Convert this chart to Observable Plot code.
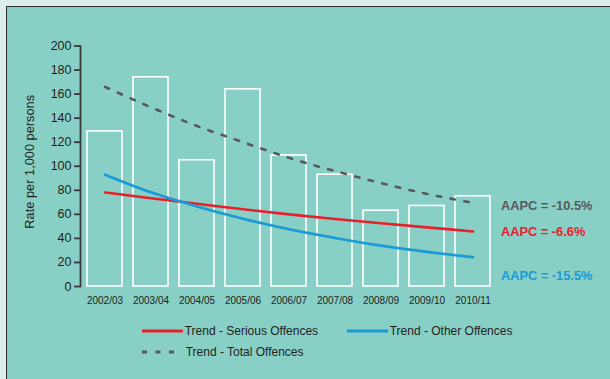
<!DOCTYPE html>
<html>
<head>
<meta charset="utf-8">
<script src="https://cdn.jsdelivr.net/npm/d3@7"></script>
<script src="https://cdn.jsdelivr.net/npm/@observablehq/plot@0.6"></script>
<style>
  html, body { margin: 0; padding: 0; }
  body { width: 610px; height: 379px; background: #dceeeb; position: relative; overflow: hidden; font-family: "Liberation Sans", Arial, sans-serif; }
  #panel { position: absolute; left: 6px; top: 6px; width: 610px; height: 379px; background: #88cfc5; border-left: 1.5px solid #2e2e2e; border-top: 1.5px solid #2e2e2e; }
  #chart { position: absolute; left: 0; top: 0; }
  #legend { position: absolute; left: 0; top: 318px; width: 610px; height: 50px; font-size: 12px; color: #231f20; }
  .item { position: absolute; display: flex; align-items: center; white-space: nowrap; }
  .item svg { display: block; margin-right: 2px; }
</style>
</head>
<body>
<div id="panel"></div>
<div id="chart"></div>
<div id="legend"></div>
<script>
const years = ["2002/03","2003/04","2004/05","2005/06","2006/07","2007/08","2008/09","2009/10","2010/11"];
const rates = [129, 174, 105, 164, 109, 93, 63, 67, 75];
const trendSerious = [78.2, 73.4, 68.8, 64.2, 60, 56.2, 52.6, 49.2, 45.8];
const trendOther = [93, 78.3, 66.6, 56.4, 47.6, 40.4, 34, 28.8, 24.4];
const trendTotal = [166, 149, 133.5, 120, 107, 96, 86, 77, 69.6];
const seriesNames = ["Trend - Serious Offences", "Trend - Other Offences", "Trend - Total Offences"];
const seriesColors = ["#e8202a", "#1a9ad6", "#58595b"];
const aapcLabels = ["AAPC = -10.5%", "AAPC = -6.6%", "AAPC = -15.5%"];
const aapcY = [67.4, 45.3, 8.7];
const aapcColors = ["#58595b", "#e8202a", "#1a9ad6"];
const yTicks = [0, 20, 40, 60, 80, 100, 120, 140, 160, 180, 200];
const yLabel = "Rate per 1,000 persons";

const bars = years.map((y, i) => ({year: y, value: rates[i]}));
const mk = arr => years.map((y, i) => ({year: y, value: arr[i]}));
const aapc = aapcLabels.map((t, i) => ({text: t, y: aapcY[i], color: aapcColors[i], year: years[years.length - 1]}));

const plot = Plot.plot({
  width: 610,
  height: 310,
  marginLeft: 80,
  marginRight: 112.5,
  marginTop: 45.5,
  marginBottom: 24,
  style: {background: "transparent", fontFamily: "Liberation Sans, Arial, sans-serif", color: "#231f20"},
  x: {domain: years, paddingInner: 0.23, paddingOuter: 0.12},
  y: {domain: [0, 200]},
  marks: [
    Plot.axisX({tickSize: 0, tickPadding: 10, fontSize: 10, label: null, fill: "#231f20"}),
    Plot.axisY({ticks: yTicks, tickSize: 6, tickPadding: 3, fontSize: 12.5, label: null, stroke: "#3a3a3a", strokeWidth: 1.8, fill: "#231f20"}),
    Plot.frame({anchor: "left", stroke: "#3a3a3a", strokeWidth: 1.8}),
    Plot.barY(bars, {x: "year", y: "value", fill: "none", stroke: "white", strokeWidth: 1.6}),
    Plot.line(mk(trendTotal), {x: "year", y: "value", stroke: seriesColors[2], strokeWidth: 2.6, strokeDasharray: "4.5,9.5", curve: "monotone-x"}),
    Plot.line(mk(trendSerious), {x: "year", y: "value", stroke: seriesColors[0], strokeWidth: 2.6, curve: "monotone-x"}),
    Plot.line(mk(trendOther), {x: "year", y: "value", stroke: seriesColors[1], strokeWidth: 2.6, curve: "monotone-x"}),
    Plot.text(aapc, {x: "year", y: "y", text: "text", fill: "color", textAnchor: "start", dx: 28, fontWeight: "bold", fontSize: 12.8}),
    Plot.text([yLabel], {frameAnchor: "left", textAnchor: "middle", rotate: -90, dx: -51, dy: -4.5, fontSize: 12.8, fill: "#231f20"})
  ]
});
document.getElementById("chart").appendChild(plot);

// legend
const legend = document.getElementById("legend");
const legendPos = [[141.7, 12.7], [346.7, 12.7], [141.7, 34]];
const legendDash = [null, null, "5,8.5"];
const legendW = [41, 41, 35];
seriesNames.forEach((name, i) => {
  const div = document.createElement("div");
  div.className = "item";
  div.style.left = legendPos[i][0] + "px";
  div.style.top = (legendPos[i][1] - 8) + "px";
  div.style.height = "16px";
  const svg = d3.create("svg").attr("width", i === 2 ? 42 : legendW[i]).attr("height", 16);
  svg.append("line").attr("x1", 0).attr("x2", legendW[i]).attr("y1", 8).attr("y2", 8)
    .attr("stroke", seriesColors[i]).attr("stroke-width", 3)
    .attr("stroke-dasharray", legendDash[i]);
  div.appendChild(svg.node());
  const span = document.createElement("span");
  span.textContent = name;
  div.appendChild(span);
  legend.appendChild(div);
});
</script>
</body>
</html>
